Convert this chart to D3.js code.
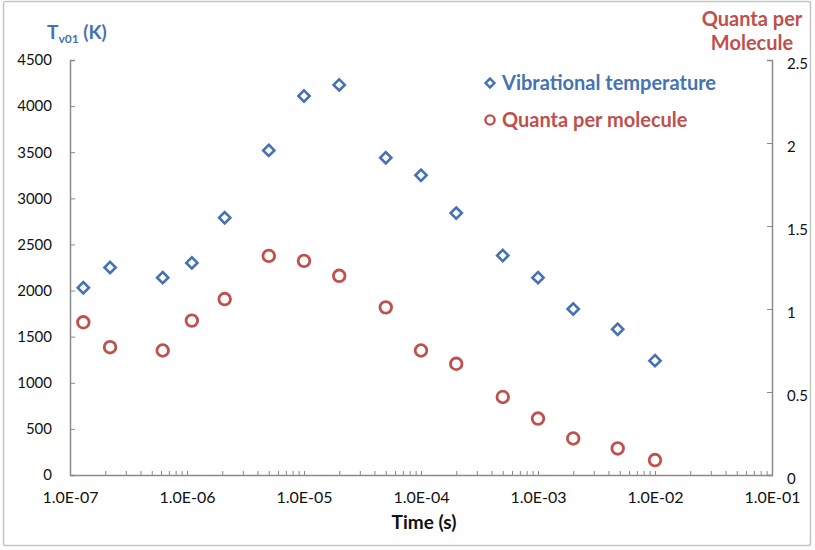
<!DOCTYPE html>
<html>
<head>
<meta charset="utf-8">
<script src="https://cdn.jsdelivr.net/npm/d3@7"></script>
<style>
  html, body { margin: 0; padding: 0; background: #fff; }
  svg { display: block; font-family: Lato, "Open Sans", sans-serif; }
</style>
</head>
<body>
<svg id="chart" width="815" height="550"></svg>
<script>
// ---- data ----
const times = [1.3e-7, 2.2e-7, 6.2e-7, 1.1e-6, 2.1e-6, 5e-6, 1e-5, 2e-5, 5e-5, 1e-4, 2e-4, 5e-4, 1e-3, 2e-3, 4.8e-3, 1e-2];
const vibTemp = [2030, 2250, 2140, 2300, 2790, 3520, 4110, 4230, 3440, 3250, 2840, 2380, 2140, 1800, 1580, 1240];
const quanta = [0.92, 0.77, 0.75, 0.93, 1.06, 1.32, 1.29, 1.20, 1.01, 0.75, 0.67, 0.47, 0.34, 0.22, 0.16, 0.09];
const xTickValues = [1e-7, 1e-6, 1e-5, 1e-4, 1e-3, 1e-2, 1e-1];
const xTickLabels = ["1.0E-07", "1.0E-06", "1.0E-05", "1.0E-04", "1.0E-03", "1.0E-02", "1.0E-01"];
const leftTicks = [0, 500, 1000, 1500, 2000, 2500, 3000, 3500, 4000, 4500];
const rightTicks = [0, 0.5, 1, 1.5, 2, 2.5];
const seriesNames = ["Vibrational temperature", "Quanta per molecule"];

// ---- styles ----
const blue = "#4572b4";
const red = "#c0504d";
const axisColor = "#8a8a8a";

const svg = d3.select("#chart");

// outer border
svg.append("rect").attr("x", 3.5).attr("y", 1.5).attr("width", 807).attr("height", 544)
  .attr("fill", "#fff").attr("stroke", "#c4c4c4").attr("stroke-width", 1.5).attr("rx", 2);

const x = d3.scaleLog().domain([1e-7, 1e-1]).range([70, 772]);
const yL = d3.scaleLinear().domain([0, 4500]).range([475, 60]);
const yR = d3.scaleLinear().domain([0, 2.5]).range([475, 60]);

// minor x ticks
const minors = [];
for (let e = -7; e < -1; e++) for (let m = 2; m <= 9; m++) minors.push(m * Math.pow(10, e));

function styleAxis(g, fs) {
  g.select(".domain").attr("stroke", axisColor).attr("stroke-width", 1.5);
  g.selectAll(".tick line").attr("stroke", axisColor).attr("stroke-width", 1);
  g.selectAll(".tick text").attr("fill", "#111").attr("font-size", fs).attr("font-family", "Lato, sans-serif");
}

// left axis
const gL = svg.append("g").attr("transform", "translate(70,0)")
  .call(d3.axisLeft(yL).tickValues(leftTicks).tickSize(-5).tickSizeOuter(-5).tickPadding(18).tickFormat(d3.format("d")));
styleAxis(gL, 15);

// right axis
const gR = svg.append("g").attr("transform", "translate(772,0)")
  .call(d3.axisRight(yR).tickValues(rightTicks).tickSize(-5).tickSizeOuter(-5).tickPadding(15).tickFormat(d => String(d)));
styleAxis(gR, 15);
gR.selectAll(".tick text").attr("dy", "0.55em");

// bottom axis minors
const gMin = svg.append("g").attr("transform", "translate(0,475)")
  .call(d3.axisBottom(x).tickValues(minors).tickSize(-4).tickSizeOuter(0).tickFormat(""));
styleAxis(gMin, 15);
gMin.select(".domain").remove();

// bottom axis majors
const gB = svg.append("g").attr("transform", "translate(0,475)")
  .call(d3.axisBottom(x).tickValues(xTickValues).tickSize(-4).tickSizeOuter(0).tickPadding(17)
    .tickFormat((d, i) => xTickLabels[i]));
styleAxis(gB, 16);

// axis titles
svg.append("text").attr("x", 424).attr("y", 529).attr("text-anchor", "middle")
  .attr("font-size", 19).attr("font-weight", "bold").attr("fill", "#111").text("Time (s)");

const tl = svg.append("text").attr("x", 47).attr("y", 39).attr("font-size", 19)
  .attr("font-weight", "bold").attr("fill", blue);
tl.append("tspan").text("T");
tl.append("tspan").attr("font-size", 12).attr("dy", 4).text("v01");
tl.append("tspan").attr("dy", -4).text(" (K)");

svg.append("text").attr("x", 752).attr("y", 26).attr("text-anchor", "middle")
  .attr("font-size", 20).attr("font-weight", "bold").attr("fill", red).text("Quanta per");
svg.append("text").attr("x", 752).attr("y", 50).attr("text-anchor", "middle")
  .attr("font-size", 20).attr("font-weight", "bold").attr("fill", red).text("Molecule");

// marks
const diamond = d3.symbol().type(d3.symbolDiamond2).size(80);
svg.append("g").selectAll("path").data(times).join("path")
  .attr("transform", (d, i) => `translate(${x(d)},${yL(vibTemp[i])})`)
  .attr("d", diamond).attr("fill", "#fff").attr("stroke", blue).attr("stroke-width", 2.6);

svg.append("g").selectAll("circle").data(times).join("circle")
  .attr("cx", d => x(d)).attr("cy", (d, i) => yR(quanta[i])).attr("r", 5.8)
  .attr("fill", "#fff").attr("stroke", red).attr("stroke-width", 2.8);

// legend
const lg = svg.append("g");
lg.append("path").attr("transform", "translate(490,83)").attr("d", d3.symbol().type(d3.symbolDiamond2).size(50))
  .attr("fill", "#fff").attr("stroke", blue).attr("stroke-width", 2.4);
lg.append("text").attr("x", 502).attr("y", 90).attr("font-size", 20).attr("font-weight", "bold")
  .attr("fill", blue).text(seriesNames[0]);
lg.append("circle").attr("cx", 490).attr("cy", 120).attr("r", 4.6)
  .attr("fill", "#fff").attr("stroke", red).attr("stroke-width", 2.4);
lg.append("text").attr("x", 502).attr("y", 127).attr("font-size", 20).attr("font-weight", "bold")
  .attr("fill", red).text(seriesNames[1]);
</script>
</body>
</html>
